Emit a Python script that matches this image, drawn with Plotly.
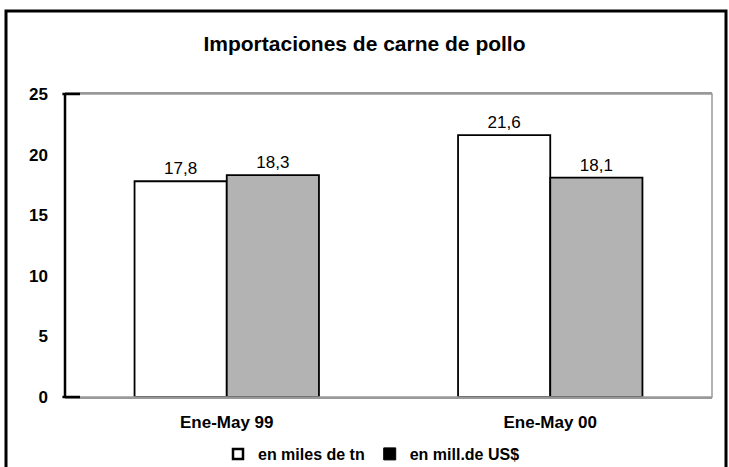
import plotly.graph_objects as go

categories = ["Ene-May 99", "Ene-May 00"]
miles_tn = [17.8, 21.6]
mill_usd = [18.3, 18.1]
series_names = ["en miles de tn", "en mill.de US$"]
y_ticks = [0, 5, 10, 15, 20, 25]

font = "Liberation Sans, Arial, sans-serif"

W, H = 729, 467
L, R, T, B = 65, 17, 94, 70
PW, PH = W - L - R, H - T - B

fig = go.Figure()
fig.add_trace(go.Bar(
    x=categories, y=miles_tn, name=series_names[0],
    marker=dict(color="white", line=dict(color="black", width=1.8)),
    texttemplate="%{y:.1f}", textposition="outside",
    textfont=dict(size=17, color="black", family=font),
    showlegend=False, cliponaxis=False,
))
fig.add_trace(go.Bar(
    x=categories, y=mill_usd, name=series_names[1],
    marker=dict(color="#b3b3b3", line=dict(color="black", width=1.8)),
    texttemplate="%{y:.1f}", textposition="outside",
    textfont=dict(size=17, color="black", family=font),
    showlegend=False, cliponaxis=False,
))
# legend entries (square glyphs like the original)
fig.add_trace(go.Scatter(
    x=[None], y=[None], mode="markers", name=series_names[0],
    marker=dict(symbol="square", size=10, color="white", line=dict(color="black", width=2.5)),
))
fig.add_trace(go.Scatter(
    x=[None], y=[None], mode="markers", name=series_names[1],
    marker=dict(symbol="square", size=12, color="black", line=dict(color="black", width=1)),
))

fig.update_layout(
    width=W, height=H,
    margin=dict(l=L, r=R, t=T, b=B, autoexpand=False),
    paper_bgcolor="white", plot_bgcolor="white",
    separators=",.",
    barmode="group", bargap=0.43, bargroupgap=0,
    title=dict(text="<b>Importaciones de carne de pollo</b>", x=0.5, xanchor="center",
               y=1 - 44 / H, yanchor="middle",
               font=dict(size=21, color="black", family=font)),
    font=dict(family=font, color="black"),
    legend=dict(orientation="h", x=(218 - L) / PW, xanchor="left",
                y=-(437 - 397) / PH, yanchor="top",
                font=dict(size=16, color="black", family=font, weight="bold"),
                itemwidth=30, tracegroupgap=0, bgcolor="rgba(0,0,0,0)",
                borderwidth=0),
    showlegend=True,
)
fig.update_xaxes(
    showline=True, linecolor="#999999", linewidth=1.5, mirror=True,
    ticks="", ticklabelstandoff=9,
    tickfont=dict(size=17, color="black", family=font, weight="bold"),
    showgrid=False,
)
fig.update_yaxes(
    range=[0, 25], tickvals=y_ticks, showgrid=False,
    showline=False, zeroline=False,
    ticks="", ticklabelstandoff=16,
    tickfont=dict(size=17, color="black", family=font, weight="bold"),
)
# plot frame: gray top/right, black left axis
fig.add_shape(type="rect", xref="paper", yref="paper", x0=0, x1=1, y0=0, y1=1,
              line=dict(color="#999999", width=1.5), layer="above")
fig.add_shape(type="line", xref="paper", yref="paper", x0=0, x1=0, y0=0, y1=1,
              line=dict(color="black", width=2.5), layer="above")
fig.add_shape(type="line", xref="paper", yref="paper", x0=-0.004, x1=15 / PW, y0=1, y1=1,
              line=dict(color="black", width=2.5), layer="above")
fig.add_shape(type="line", xref="paper", yref="paper", x0=-0.004, x1=15 / PW, y0=0, y1=0,
              line=dict(color="black", width=2.5), layer="above")
# outer frame of the figure
fig.add_shape(type="rect", xref="paper", yref="paper",
              x0=(6 - L) / PW, x1=(726 - L) / PW,
              y0=-(475 - 397) / PH, y1=1 + (T - 11) / PH,
              line=dict(color="black", width=3), layer="above")

fig.write_html("out.html", config={"displayModeBar": False},
               post_script="document.body.style.margin='0';document.body.style.overflow='hidden';")
